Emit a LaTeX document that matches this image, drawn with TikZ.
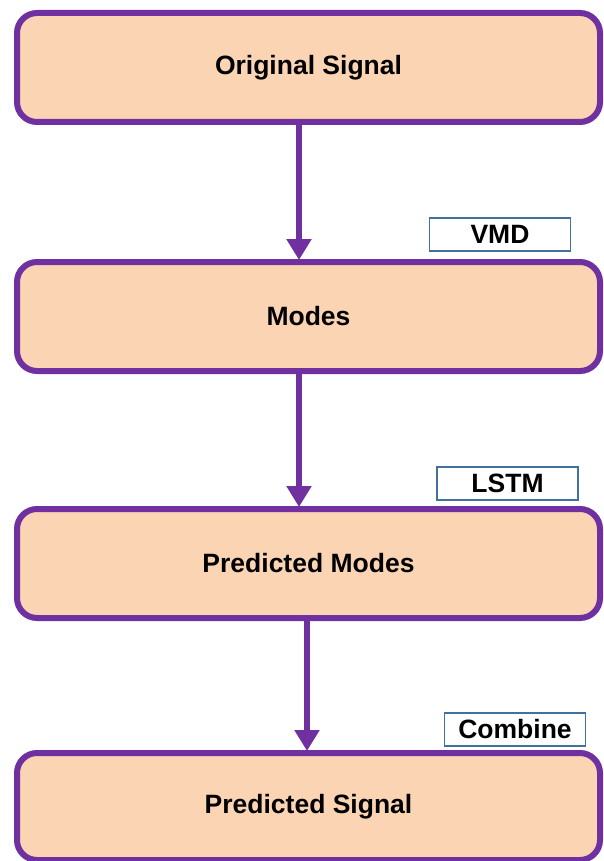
\documentclass[tikz,border=0pt]{standalone}
\usepackage{fontspec}
\setmainfont{Liberation Sans}
\usetikzlibrary{arrows.meta}
\definecolor{boxfill}{HTML}{FBD4B4}
\definecolor{boxline}{HTML}{7030A0}
\definecolor{tagline}{HTML}{41719C}
\tikzset{
  stagebox/.style={draw=boxline, line width=6pt, fill=boxfill, rounded corners=20pt,
    minimum width=583pt, font=\bfseries\fontsize{26.5}{30}\selectfont, inner sep=0pt},
  tagbox/.style={draw=tagline, line width=1.5pt, fill=white, minimum width=141pt,
    minimum height=33pt, font=\bfseries\fontsize{26.5}{30}\selectfont, inner sep=0pt},
  flow/.style={draw=boxline, line width=6pt, -{Triangle[width=24pt,length=21pt]}}
}
\begin{document}
\begin{tikzpicture}[x=1pt,y=-1pt]
\useasboundingbox (0,0) rectangle (603,861);
\node[stagebox, minimum height=109pt] (orig) at (308.5,67.5) {Original Signal};
\node[stagebox, minimum height=109pt] (modes) at (308.5,316.5) {Modes};
\node[stagebox, minimum height=109pt] (pmodes) at (308.5,563.5) {Predicted Modes};
\node[stagebox, minimum height=107pt] (psig) at (308.5,806.5) {Predicted Signal};
\node[tagbox] (vmd) at (500,234.5) {VMD};
\node[tagbox] (lstm) at (507.5,483.5) {LSTM};
\node[tagbox] (comb) at (515,729.5) {Combine};
\draw[flow] ([xshift=-9.5pt]orig.south) -- ([xshift=-9.5pt,yshift=-1pt]modes.north);
\draw[flow] ([xshift=-9.5pt]modes.south) -- ([xshift=-9.5pt,yshift=-1pt]pmodes.north);
\draw[flow] ([xshift=-1.5pt]pmodes.south) -- ([xshift=-1.5pt,yshift=-1pt]psig.north);
\end{tikzpicture}
\end{document}
